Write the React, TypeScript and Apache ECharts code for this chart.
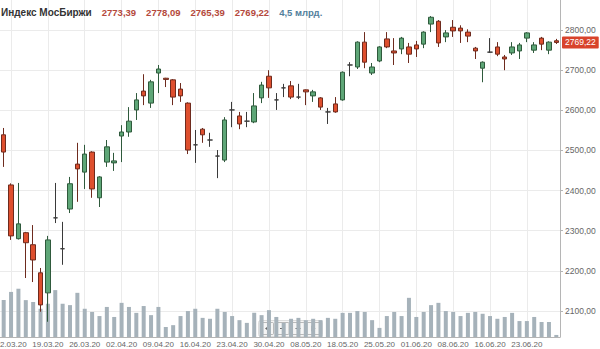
import React, { useEffect, useRef } from 'react';
import * as echarts from 'echarts';

const instrument = 'Индекс МосБиржи';
const volumeUnit = 'млрд.';

const dates = [
  '11.03.20', '12.03.20', '13.03.20', '16.03.20', '17.03.20', '18.03.20', '19.03.20', '20.03.20', '23.03.20', '24.03.20',
  '25.03.20', '26.03.20', '27.03.20', '30.03.20', '31.03.20', '01.04.20', '02.04.20', '03.04.20', '06.04.20', '07.04.20',
  '08.04.20', '09.04.20', '10.04.20', '13.04.20', '14.04.20', '15.04.20', '16.04.20', '17.04.20', '20.04.20', '21.04.20',
  '22.04.20', '23.04.20', '24.04.20', '27.04.20', '28.04.20', '29.04.20', '30.04.20', '04.05.20', '05.05.20', '06.05.20',
  '07.05.20', '08.05.20', '12.05.20', '13.05.20', '14.05.20', '15.05.20', '18.05.20', '19.05.20', '20.05.20', '21.05.20',
  '22.05.20', '25.05.20', '26.05.20', '27.05.20', '28.05.20', '29.05.20', '01.06.20', '02.06.20', '03.06.20', '04.06.20',
  '05.06.20', '08.06.20', '09.06.20', '10.06.20', '11.06.20', '15.06.20', '16.06.20', '17.06.20', '18.06.20', '19.06.20',
  '22.06.20', '23.06.20', '25.06.20', '26.06.20', '29.06.20', '30.06.20'
];

const opens = [
  2539, 2414, 2280, 2295, 2265, 2195, 2145, 2332, 2255, 2354,
  2466, 2446, 2496, 2382, 2471, 2469, 2536, 2546, 2601, 2648,
  2618, 2693, 2680, 2676, 2653, 2618, 2514, 2553, 2526, 2486,
  2476, 2601, 2586, 2573, 2571, 2631, 2685, 2626, 2656, 2661,
  2633, 2651, 2636, 2631, 2596, 2616, 2626, 2713, 2708, 2770,
  2693, 2723, 2778, 2748, 2753, 2758, 2763, 2765, 2815, 2822,
  2783, 2807, 2805, 2795, 2755, 2705, 2745, 2758, 2733, 2743,
  2748, 2780, 2750, 2780, 2750, 2773.39
];

const closes = [
  2496, 2287, 2317, 2270, 2227, 2115, 2277, 2332, 2255, 2417,
  2454, 2491, 2404, 2434, 2509, 2474, 2546, 2573, 2626, 2636,
  2671, 2703, 2677, 2633, 2636, 2501, 2514, 2539, 2526, 2486,
  2576, 2601, 2566, 2573, 2611, 2663, 2656, 2626, 2656, 2633,
  2633, 2646, 2646, 2608, 2596, 2596, 2695, 2713, 2770, 2720,
  2708, 2758, 2758, 2743, 2780, 2740, 2753, 2795, 2832, 2768,
  2793, 2798, 2798, 2785, 2748, 2720, 2745, 2740, 2728, 2758,
  2763, 2793, 2763, 2765, 2770, 2769.22
];

const lows = [
  2459, 2277, 2278, 2182, 2172, 2098, 2073, 2319, 2215, 2344,
  2372, 2404, 2382, 2359, 2459, 2449, 2471, 2534, 2576, 2613,
  2606, 2643, 2658, 2613, 2621, 2491, 2469, 2519, 2509, 2431,
  2471, 2558, 2553, 2558, 2568, 2618, 2631, 2601, 2633, 2628,
  2628, 2613, 2621, 2601, 2566, 2594, 2624, 2685, 2703, 2705,
  2688, 2720, 2755, 2713, 2740, 2718, 2733, 2755, 2795, 2758,
  2770, 2783, 2768, 2770, 2728, 2670, 2743, 2735, 2700, 2738,
  2728, 2770, 2743, 2750, 2740, 2765.39
];

const highs = [
  2556, 2418, 2419, 2297, 2314, 2207, 2287, 2419, 2322, 2434,
  2519, 2514, 2498, 2436, 2526, 2494, 2563, 2608, 2643, 2690,
  2676, 2713, 2681, 2678, 2668, 2620, 2551, 2556, 2544, 2501,
  2583, 2621, 2596, 2596, 2643, 2671, 2700, 2643, 2666, 2673,
  2666, 2652, 2651, 2633, 2606, 2633, 2697, 2720, 2772, 2795,
  2718, 2760, 2795, 2780, 2783, 2768, 2773, 2797, 2835, 2825,
  2800, 2825, 2812, 2802, 2758, 2722, 2780, 2770, 2738, 2770,
  2768, 2795, 2770, 2783, 2772, 2778.09
];

// trading volume, billions of roubles
const volumes = [
  81, 99, 106, 81, 77, 62, 73, 103, 73, 70,
  97, 62, 55, 46, 66, 44, 75, 66, 53, 68,
  48, 66, 22, 26, 46, 57, 62, 42, 40, 62,
  55, 46, 37, 31, 53, 48, 59, 44, 31, 40,
  42, 37, 40, 37, 42, 40, 53, 53, 57, 55,
  37, 20, 46, 55, 46, 86, 44, 55, 70, 75,
  57, 55, 46, 53, 55, 51, 46, 40, 44, 53,
  35, 35, 44, 33, 33, 4.5
];

const fmt2 = (v: number) => v.toFixed(2).replace('.', ',');
const fmt1 = (v: number) => String(v).replace('.', ',');

export default function App() {
  const ref = useRef<HTMLDivElement>(null);

  useEffect(() => {
    if (!ref.current) return;
    const chart = echarts.init(ref.current, null, { renderer: 'svg' });
    const last = dates.length - 1;
    const showIdx = (i: number) => (i - 1) % 5 === 0;
    const dark = '#3a3a3a';
    const font = 'Liberation Sans, Arial, sans-serif';

    const candleData = dates.map((_, i) => {
      const item: any = { value: [opens[i], closes[i], lows[i], highs[i]] };
      if (opens[i] === closes[i]) {
        item.itemStyle = { color: dark, color0: dark, borderColor: dark, borderColor0: dark };
      }
      return item;
    });

    const btnW = 13;
    const btnH = 12;
    const btnStyle = { fill: 'rgba(245,245,245,0.7)', stroke: 'rgba(170,170,170,0.8)', lineWidth: 1 };
    const symStyle = { fill: '#666' };

    chart.setOption({
      animation: false,
      textStyle: { fontFamily: font },
      title: {
        left: 1,
        top: 3,
        padding: 0,
        text:
          `{a|${instrument}}  {b|${fmt2(opens[last])}}  {b|${fmt2(highs[last])}}  ` +
          `{b|${fmt2(lows[last])}}  {b|${fmt2(closes[last])}}  {c|${fmt1(volumes[last])} ${volumeUnit}}`,
        textStyle: {
          rich: {
            a: { fontSize: 10, fontWeight: 'bold', color: '#333', fontFamily: font },
            b: { fontSize: 9.5, color: '#b4493c', fontFamily: font },
            c: { fontSize: 9.5, color: '#52809c', fontFamily: font },
          },
        },
      },
      grid: { left: 0, right: 40, top: 0, bottom: 12, containLabel: false, outerBoundsMode: 'none' },
      xAxis: {
        type: 'category',
        data: dates,
        boundaryGap: true,
        axisLine: { show: true, lineStyle: { color: '#b5b5b5' } },
        axisTick: { show: false },
        axisLabel: {
          interval: (i: number) => showIdx(i),
          color: '#666',
          fontSize: 8,
          margin: 3,
        },
        splitLine: {
          show: true,
          interval: (i: number) => showIdx(i),
          alignWithLabel: true,
          lineStyle: { color: '#ebebeb', width: 1 },
        },
      },
      yAxis: [
        {
          type: 'value',
          position: 'right',
          min: 2035,
          max: 2875,
          splitNumber: 8,
          axisLine: { show: true, lineStyle: { color: '#b5b5b5' } },
          axisTick: { show: true, length: 3, lineStyle: { color: '#b5b5b5' } },
          axisLabel: {
            color: '#666',
            fontSize: 8.5,
            margin: 5,
            showMinLabel: false,
            showMaxLabel: false,
            formatter: (v: number) => (v % 100 === 0 ? fmt2(v) : ''),
          },
          splitLine: { show: true, showMinLine: false, showMaxLine: false, lineStyle: { color: '#ebebeb' } },
        },
        {
          type: 'value',
          min: 0,
          max: 740,
          show: false,
          splitLine: { show: false },
        },
      ],
      series: [
        {
          type: 'bar',
          yAxisIndex: 1,
          data: volumes,
          barWidth: 4,
          itemStyle: { color: '#a6b2ba' },
          silent: true,
          z: 1,
        },
        {
          type: 'candlestick',
          data: candleData,
          barWidth: 5,
          z: 2,
          itemStyle: {
            color: '#5ea677',
            color0: '#de4f2e',
            borderColor: '#2f5a3c',
            borderColor0: '#6e2b1e',
            borderWidth: 1,
          },
          markLine: {
            symbol: 'none',
            silent: true,
            animation: false,
            lineStyle: { color: 'rgba(0,0,0,0)', width: 1, type: 'solid' },
            data: [{ yAxis: closes[last] }],
            label: {
              show: true,
              position: 'end',
              distance: 2,
              formatter: () => fmt2(closes[last]),
              backgroundColor: '#d8432b',
              color: '#fff',
              fontSize: 8.5,
              padding: [2, 3, 1, 3],
              borderRadius: 1,
            },
          },
        },
      ],
      graphic: [
        {
          type: 'group',
          left: 258,
          top: 320,
          silent: true,
          children: [
            { type: 'rect', shape: { x: 0, y: 0, width: 64, height: 16, r: 2 }, style: { fill: 'rgba(235,235,235,0.5)', stroke: 'rgba(200,200,200,0.6)' } },
            { type: 'rect', shape: { x: 2, y: 2, width: btnW, height: btnH, r: 1 }, style: btnStyle },
            { type: 'rect', shape: { x: 17.5, y: 2, width: btnW, height: btnH, r: 1 }, style: btnStyle },
            { type: 'rect', shape: { x: 33, y: 2, width: btnW, height: btnH, r: 1 }, style: btnStyle },
            { type: 'rect', shape: { x: 48.5, y: 2, width: btnW, height: btnH, r: 1 }, style: btnStyle },
            { type: 'polygon', shape: { points: [[10.5, 5], [10.5, 11], [6.5, 8]] }, style: symStyle },
            { type: 'rect', shape: { x: 21.5, y: 7.5, width: 5, height: 1 }, style: symStyle },
            { type: 'rect', shape: { x: 37, y: 7.5, width: 5, height: 1 }, style: symStyle },
            { type: 'rect', shape: { x: 39, y: 5.5, width: 1, height: 5 }, style: symStyle },
            { type: 'polygon', shape: { points: [[53, 5], [53, 11], [57, 8]] }, style: symStyle },
          ],
        },
      ],
    });

    return () => chart.dispose();
  }, []);

  return (
    <div
      ref={ref}
      style={{ position: 'fixed', left: 0, top: 0, width: 600, height: 349, background: '#fff' }}
    />
  );
}
